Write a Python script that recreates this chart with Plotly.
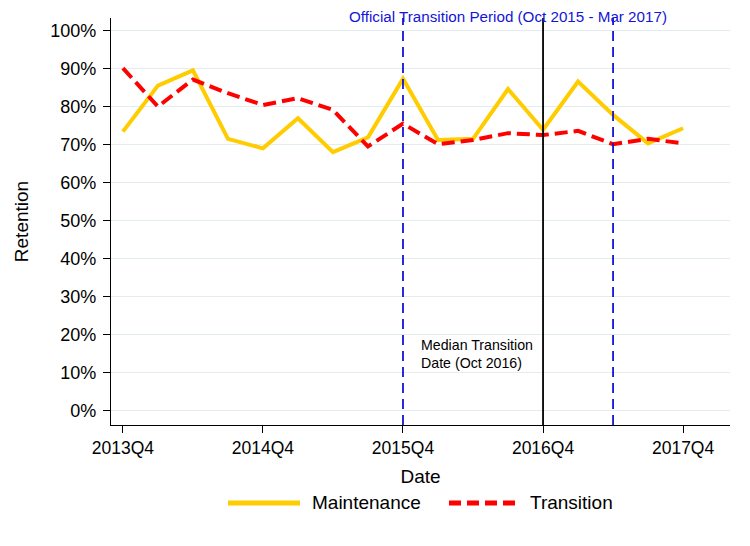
import plotly.graph_objects as go

quarters = ["2013Q4", "2014Q1", "2014Q2", "2014Q3", "2014Q4", "2015Q1", "2015Q2", "2015Q3",
            "2015Q4", "2016Q1", "2016Q2", "2016Q3", "2016Q4", "2017Q1", "2017Q2", "2017Q3", "2017Q4"]
maintenance = [73.5, 85.6, 89.6, 71.6, 69.1, 77.0, 68.1, 72.0, 87.4, 71.3, 71.6, 84.7, 74.0, 86.7, 77.9, 70.4, 74.4]
transition = [90.2, 80.1, 87.2, 83.6, 80.5, 82.3, 79.2, 69.6, 75.6, 70.2, 71.3, 73.1, 72.6, 73.7, 70.2, 71.6, 70.4]
tick_labels = ["2013Q4", "2014Q4", "2015Q4", "2016Q4", "2017Q4"]
y_ticks = list(range(0, 101, 10))
series_names = ["Maintenance", "Transition"]
period_start, period_end, median_date = "2015Q4", "2017Q2", "2016Q4"

FONT = "Liberation Sans, Arial, sans-serif"
YELLOW, RED, BLUE = "#FFCC00", "#FF0000", "#1414D8"
RED_DASH = "13px,6px"
BLUE_DASH = "10px,6px"

fig = go.Figure()
fig.add_trace(go.Scatter(x=quarters, y=maintenance, mode="lines", name=series_names[0],
                         line=dict(color=YELLOW, width=4), showlegend=False))
fig.add_trace(go.Scatter(x=quarters, y=transition, mode="lines", name=series_names[1],
                         line=dict(color=RED, width=4, dash=RED_DASH), showlegend=False))

ymin, ymax = -3.7, 103.4
for q, col, dash in [(period_start, BLUE, BLUE_DASH), (period_end, BLUE, BLUE_DASH), (median_date, "black", "solid")]:
    fig.add_shape(type="line", xref="x", yref="y", x0=q, x1=q, y0=ymin, y1=ymax,
                  line=dict(color=col, width=1.8, dash=dash))

W, H = 750, 546
L, R, T, B = 103, 28, 10, 129
pw, ph = W - L - R, H - T - B

def px(s):  # screen x -> paper
    return (s - 111) / pw

def py(s):  # screen y -> paper
    return (425 - s) / ph

# manual legend (wide samples like the original)
ly = py(503)
fig.add_shape(type="line", xref="paper", yref="paper", x0=px(228), x1=px(300), y0=ly, y1=ly,
              line=dict(color=YELLOW, width=5))
fig.add_shape(type="line", xref="paper", yref="paper", x0=px(449), x1=px(520), y0=ly, y1=ly,
              line=dict(color=RED, width=5, dash="12px,6px"))
fig.add_annotation(x=px(310), y=ly, xref="paper", yref="paper", xanchor="left", yanchor="middle",
                   text=series_names[0], showarrow=False, font=dict(size=19, family=FONT, color="black"))
fig.add_annotation(x=px(528), y=ly, xref="paper", yref="paper", xanchor="left", yanchor="middle",
                   text=series_names[1], showarrow=False, font=dict(size=19, family=FONT, color="black"))

fig.add_annotation(x=11, y=(ph + T) / ph, xref="x", yref="paper", yanchor="top",
                   text="Official Transition Period (Oct 2015 - Mar 2017)", showarrow=False,
                   font=dict(color=BLUE, size=15.2, family=FONT), yshift=2)
fig.add_annotation(x=8.45, y=15.0, xref="x", yref="y", xanchor="left", yanchor="middle", align="left",
                   text="Median Transition<br>Date (Oct 2016)", showarrow=False,
                   font=dict(color="black", size=14.2, family=FONT))

fig.update_layout(
    width=W, height=H,
    margin=dict(l=L, r=R, t=T, b=B, autoexpand=False),
    paper_bgcolor="white", plot_bgcolor="white",
    font=dict(family=FONT, color="black", size=16),
    showlegend=False,
    xaxis=dict(type="category", range=[-0.34, 17.34], tickmode="array", tickvals=tick_labels,
               ticktext=tick_labels, ticks="outside", ticklen=7, tickcolor="black",
               showline=True, linecolor="black", linewidth=1.2, showgrid=False, zeroline=False,
               title=dict(text="Date", font=dict(size=19), standoff=12),
               tickfont=dict(size=17.5)),
    yaxis=dict(range=[ymin, ymax], tickmode="array", tickvals=y_ticks,
               ticktext=[f"{v}%" for v in y_ticks], ticks="outside", ticklen=7, tickcolor="black",
               ticklabelstandoff=3,
               showline=True, linecolor="black", linewidth=1.2, showgrid=True,
               gridcolor="#E3ECF0", gridwidth=1, zeroline=False,
               title=dict(text="Retention", font=dict(size=19), standoff=16),
               tickfont=dict(size=18)),
)

fig.write_html("out.html")
